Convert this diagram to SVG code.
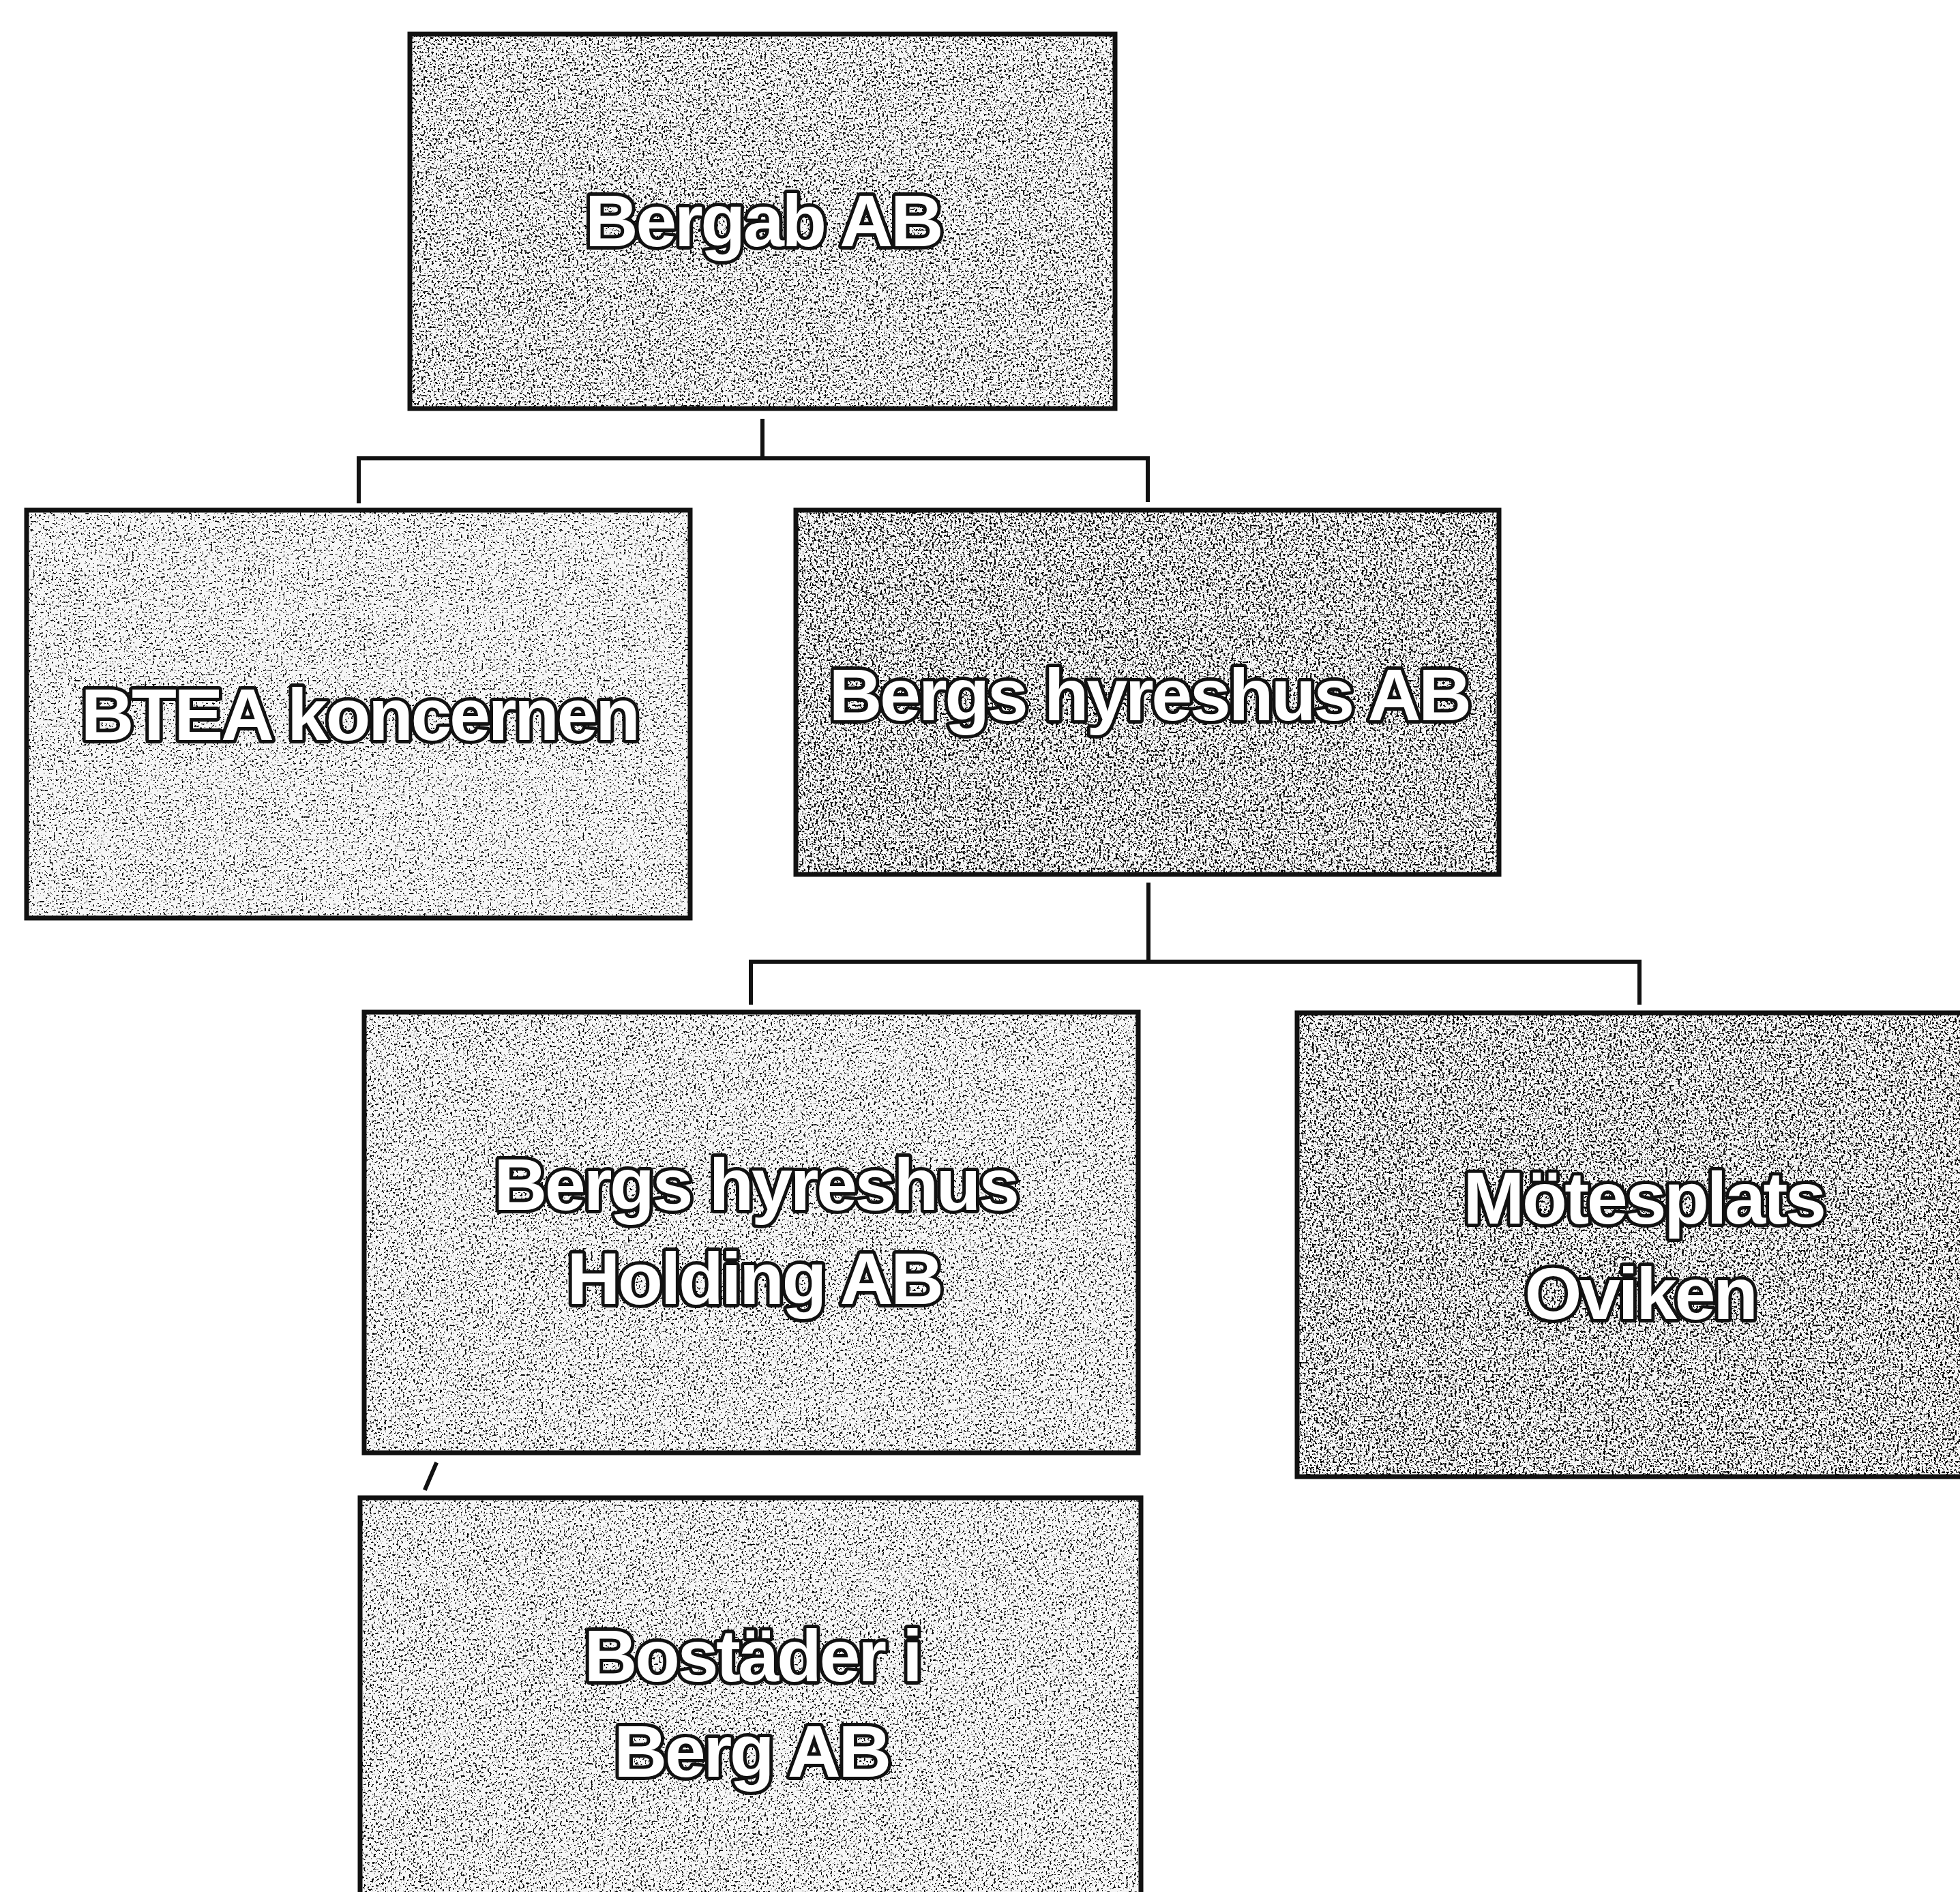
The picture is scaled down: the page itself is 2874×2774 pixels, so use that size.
<svg xmlns="http://www.w3.org/2000/svg" width="2874" height="2774" viewBox="0 0 2874 2774">
<defs>
<style>
.bg{fill:#f6f6f6}
.border{fill:none;stroke:#111;stroke-width:7}
.lbl{font-family:"Liberation Sans",Arial,sans-serif;font-weight:bold;font-size:108px;letter-spacing:-3.5px;fill:#fff;stroke:#111;stroke-width:10;stroke-linejoin:round;paint-order:stroke;text-anchor:middle}
.conn{fill:none;stroke:#111;stroke-width:6;stroke-linecap:square}
</style>
<filter id="spA" x="0" y="0" width="1" height="1" color-interpolation-filters="sRGB">
 <feTurbulence type="fractalNoise" baseFrequency="0.33" numOctaves="2" seed="3"/>
 <feColorMatrix type="matrix" values="0 0 0 0 0  0 0 0 0 0  0 0 0 0 0  -20 0 0 0 8.9"/>
 <feComposite in2="SourceAlpha" operator="in"/>
</filter>
<filter id="spB" x="0" y="0" width="1" height="1" color-interpolation-filters="sRGB">
 <feTurbulence type="fractalNoise" baseFrequency="0.33" numOctaves="2" seed="5"/>
 <feColorMatrix type="matrix" values="0 0 0 0 0  0 0 0 0 0  0 0 0 0 0  -20 0 0 0 8.3"/>
 <feComposite in2="SourceAlpha" operator="in"/>
</filter>
<filter id="spC" x="0" y="0" width="1" height="1" color-interpolation-filters="sRGB">
 <feTurbulence type="fractalNoise" baseFrequency="0.33" numOctaves="2" seed="9"/>
 <feColorMatrix type="matrix" values="0 0 0 0 0  0 0 0 0 0  0 0 0 0 0  -20 0 0 0 7.9"/>
 <feComposite in2="SourceAlpha" operator="in"/>
</filter>
<filter id="spD" x="0" y="0" width="1" height="1" color-interpolation-filters="sRGB">
 <feTurbulence type="fractalNoise" baseFrequency="0.33" numOctaves="2" seed="11"/>
 <feColorMatrix type="matrix" values="0 0 0 0 0  0 0 0 0 0  0 0 0 0 0  -20 0 0 0 7.5"/>
 <feComposite in2="SourceAlpha" operator="in"/>
</filter>
</defs>
<rect x="0" y="0" width="2874" height="2774" fill="#fff"/>

<g id="connectors">
 <polyline class="conn" points="1118,617 1118,672"/>
 <polyline class="conn" points="526,735 526,672 1683,672 1683,733"/>
 <polyline class="conn" points="1684,1297 1684,1410"/>
 <polyline class="conn" points="1101,1470 1101,1410 2404,1410 2404,1470"/>
 <line class="conn" x1="639" y1="2147" x2="624" y2="2182" stroke-linecap="butt" stroke-width="7"/>
</g>

<g id="bergab">
 <rect class="bg" x="601" y="50" width="1034" height="549"/>
 <rect x="601" y="50" width="1034" height="549" filter="url(#spB)"/>
 <rect class="border" x="601" y="50" width="1034" height="549"/>
 <text class="lbl" x="1119" y="361">Bergab AB</text>
</g>

<g id="btea">
 <rect class="bg" x="39" y="748" width="973" height="598"/>
 <rect x="39" y="748" width="973" height="598" filter="url(#spD)"/>
 <rect class="border" x="39" y="748" width="973" height="598"/>
 <text class="lbl" x="527" y="1085">BTEA koncernen</text>
</g>

<g id="bergs-hyreshus">
 <rect class="bg" x="1167" y="748" width="1031" height="534"/>
 <rect x="1167" y="748" width="1031" height="534" filter="url(#spA)"/>
 <rect class="border" x="1167" y="748" width="1031" height="534"/>
 <text class="lbl" x="1685" y="1056">Bergs hyreshus AB</text>
</g>

<g id="holding">
 <rect class="bg" x="534" y="1484" width="1135" height="646"/>
 <rect x="534" y="1484" width="1135" height="646" filter="url(#spC)"/>
 <rect class="border" x="534" y="1484" width="1135" height="646"/>
 <text class="lbl" x="1108" y="1774">Bergs hyreshus</text>
 <text class="lbl" x="1106" y="1912">Holding AB</text>
</g>

<g id="motesplats">
 <rect class="bg" x="1902" y="1485" width="1020" height="680"/>
 <rect x="1902" y="1485" width="1020" height="680" filter="url(#spA)"/>
 <rect class="border" x="1902" y="1485" width="1020" height="680"/>
 <text class="lbl" x="2410" y="1794">Mötesplats</text>
 <text class="lbl" x="2405" y="1934">Oviken</text>
</g>

<g id="bostader">
 <rect class="bg" x="528" y="2196" width="1145" height="600"/>
 <rect x="528" y="2196" width="1145" height="600" filter="url(#spC)"/>
 <rect class="border" x="528" y="2196" width="1145" height="600"/>
 <text class="lbl" x="1103" y="2465">Bostäder i</text>
 <text class="lbl" x="1102" y="2605">Berg AB</text>
</g>
</svg>
